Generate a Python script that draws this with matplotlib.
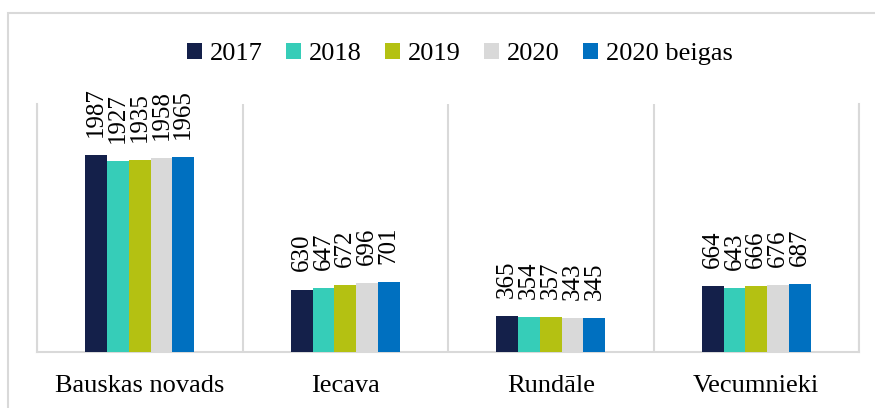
import numpy as np
import matplotlib
matplotlib.use("Agg")
import matplotlib.pyplot as plt
from matplotlib.patches import Rectangle

plt.rcParams['font.family'] = ['Liberation Serif', 'DejaVu Serif']

# population per municipality, by year
regions = ["Bauskas novads", "Iecava", "Rundāle", "Vecumnieki"]
series = ["2017", "2018", "2019", "2020", "2020 beigas"]
v2017 = [1987, 630, 365, 664]
v2018 = [1927, 647, 354, 643]
v2019 = [1935, 672, 357, 666]
v2020 = [1958, 696, 343, 676]
v2020_end = [1965, 701, 345, 687]
colors = ["#14204A", "#36CDB8", "#B4C112", "#D9D9D9", "#0070C0"]

values = [v2017, v2018, v2019, v2020, v2020_end]
grid_col = "#D9D9D9"

fig = plt.figure(figsize=(8.75, 4.08), dpi=100)
ax = fig.add_axes([37/875, 1 - 352/408, (859 - 37)/875, (352 - 104)/408])

x = np.arange(len(regions))
w = 0.106
for i, (name, vals, c) in enumerate(zip(series, values, colors)):
    pos = x + (i - 2) * w
    ax.bar(pos, vals, width=w, color=c, label=name, zorder=3)
    for px, v in zip(pos, vals):
        ax.annotate(str(v), (px, v), xytext=(0, 13), textcoords='offset points',
                    rotation=90, ha='center', va='bottom',
                    fontsize=18, color='black')

ax.set_xlim(-0.5, len(regions) - 0.5)
ax.set_ylim(0, 2500)
ax.set_yticks([])
ax.set_xticks(x)
ax.set_xticklabels(regions, fontsize=19)
ax.set_xticks(np.arange(-0.5, len(regions), 1.0), minor=True)
ax.tick_params(axis='x', which='both', length=0, pad=16.5)
ax.grid(axis='x', which='minor', color=grid_col, lw=1.5)
ax.grid(axis='x', which='major', visible=False)
ax.spines['top'].set_visible(False)
for s in ['left', 'right', 'bottom']:
    ax.spines[s].set_color(grid_col)
    ax.spines[s].set_linewidth(1.5)

fig.legend(loc='center', bbox_to_anchor=(460/875, 1 - 54/408), ncol=5,
           frameon=False, fontsize=19, handlelength=0.55, handleheight=0.55,
           handletextpad=0.3, columnspacing=0.9, borderpad=0)

# outer chart frame
fig.patches.append(Rectangle((8/875, -0.1), 1.2, 1.1 - 13/408,
                             transform=fig.transFigure, fill=False,
                             edgecolor=grid_col, lw=1.5))

fig.savefig("out.png", dpi=100)
